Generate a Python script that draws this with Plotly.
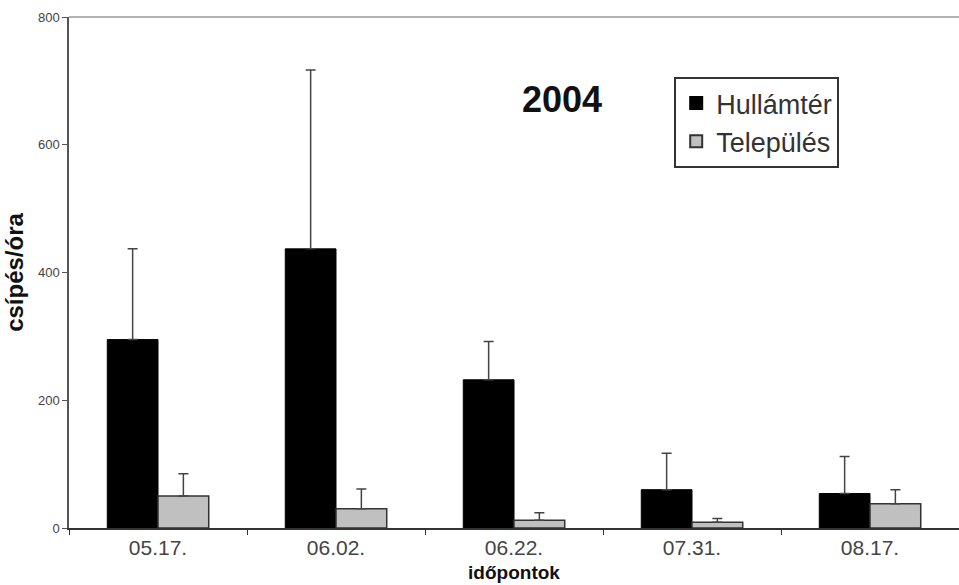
import plotly.graph_objects as go

categories = ["05.17.", "06.02.", "06.22.", "07.31.", "08.17."]
hullamter = [295, 437, 232, 60, 54]
hullamter_err = [142, 280, 60, 57, 58]
telepules = [50, 30, 12, 9, 38]
telepules_err = [35, 31, 12, 6, 22]
y_ticks = [0, 200, 400, 600, 800]

FONT = "Liberation Sans, Arial, sans-serif"

fig = go.Figure()
fig.add_trace(go.Bar(
    name="Hullámtér", x=categories, y=hullamter,
    marker=dict(color="#000000", line=dict(color="#000000", width=1)),
    error_y=dict(type="data", symmetric=False, array=hullamter_err,
                 arrayminus=[0] * len(hullamter), color="#444444",
                 thickness=1.5, width=5),
))
fig.add_trace(go.Bar(
    name="Település", x=categories, y=telepules,
    marker=dict(color="#c0c0c0", line=dict(color="#333333", width=1.5)),
    error_y=dict(type="data", symmetric=False, array=telepules_err,
                 arrayminus=[0] * len(telepules), color="#444444",
                 thickness=1.5, width=5),
))

fig.update_layout(
    width=959, height=585,
    margin=dict(l=69, r=0, t=17, b=57, autoexpand=False),
    paper_bgcolor="white", plot_bgcolor="white",
    barmode="group", bargap=0.43, bargroupgap=0,
    font=dict(family=FONT, color="#333333"),
    showlegend=True,
    legend=dict(
        x=0.68, y=0.8826, xanchor="left", yanchor="top",
        bgcolor="white", bordercolor="#333333", borderwidth=2,
        font=dict(family=FONT, size=27, color="#333333"),
        itemsizing="constant", tracegroupgap=0,
    ),
    xaxis=dict(
        automargin=False,
        showline=True, linecolor="#333333", linewidth=1.5,
        ticks="outside", tickson="boundaries", ticklen=5, tickcolor="#333333",
        tickfont=dict(family=FONT, size=21, color="#444444"),
        title=dict(text="<b>időpontok</b>", standoff=8,
                   font=dict(family=FONT, size=19, color="#111111")),
        showgrid=False,
    ),
    yaxis=dict(
        automargin=False,
        range=[0, 800], tickvals=y_ticks,
        showline=True, linecolor="#555555", linewidth=1.5,
        ticks="outside", ticklen=5, tickcolor="#555555",
        tickfont=dict(family=FONT, size=13, color="#444444"),
        title=dict(text="<b>csípés/óra</b>", standoff=8,
                   font=dict(family=FONT, size=24, color="#111111")),
        showgrid=False, zeroline=False,
    ),
    shapes=[dict(type="line", xref="paper", yref="paper", x0=0, x1=1, y0=1, y1=1,
                 line=dict(color="#999999", width=1.5))],
    annotations=[dict(text="<b>2004</b>", xref="paper", yref="paper",
                      x=0.554, y=0.8376, xanchor="center", yanchor="middle",
                      showarrow=False,
                      font=dict(family=FONT, size=36, color="#111111"))],
)

fig.write_html("out.html", config={"displayModeBar": False},
               post_script="document.body.style.margin='0';document.body.style.overflow='hidden';")
